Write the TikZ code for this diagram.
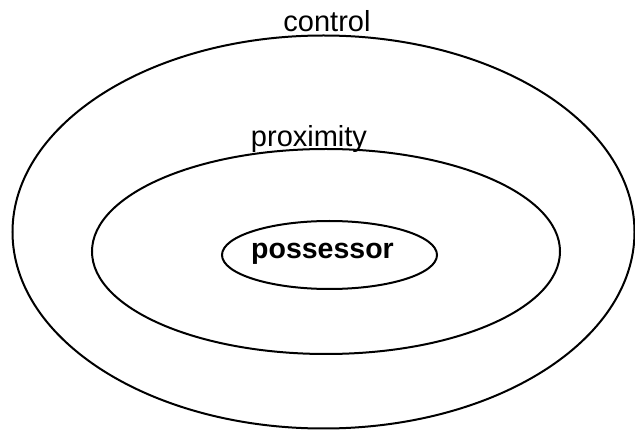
\documentclass[tikz,border=0pt]{standalone}
\usepackage{fontspec}
\setmainfont{Liberation Sans}
\begin{document}
\begin{tikzpicture}[x=1pt,y=-1pt,
  ring/.style={draw=black,line width=2pt},
  lbl/.style={inner sep=0pt,anchor=base,font=\fontsize{29}{32}\selectfont}]
\useasboundingbox (0,0) rectangle (635,430);
\draw[ring] (323.5,232) ellipse [x radius=311, y radius=196.5];
\draw[ring] (326,251.5) ellipse [x radius=234, y radius=102.5];
\draw[ring] (329.5,255) ellipse [x radius=107.5, y radius=34];
\node[lbl] (control) at (327,32) {control};
\node[lbl] (proximity) at (309,147) {proximity};
\node[lbl,font=\fontsize{28.5}{32}\selectfont\bfseries] (possessor) at (322.5,259) {possessor};
\end{tikzpicture}
\end{document}
